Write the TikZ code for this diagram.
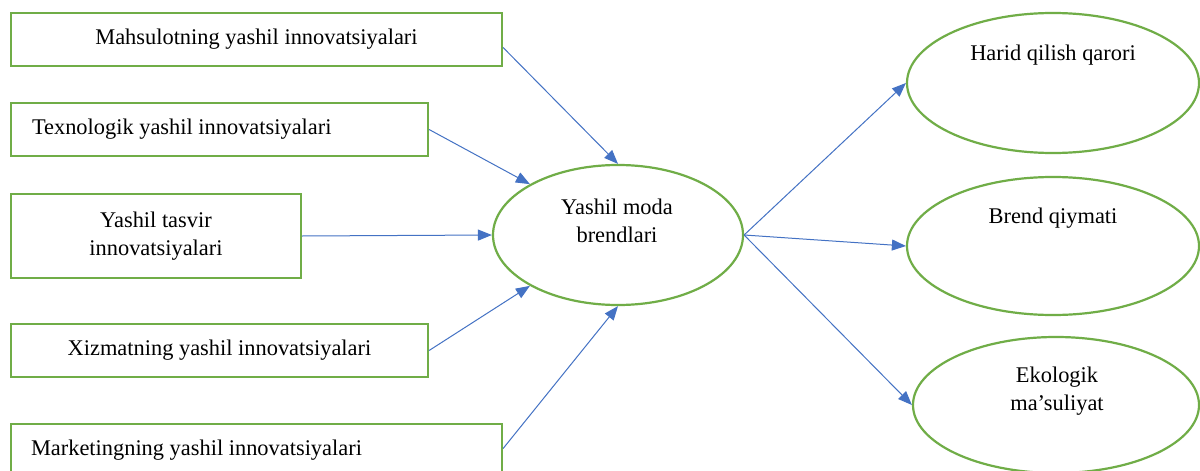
\documentclass[tikz,border=0pt]{standalone}
\usepackage{fontspec}
\setmainfont{Liberation Serif}
\usetikzlibrary{shapes.geometric,arrows.meta}
\definecolor{boxgreen}{HTML}{70AD47}
\definecolor{arrowblue}{HTML}{4472C4}
\begin{document}
\begin{tikzpicture}[x=1pt,y=-1pt,
  box/.style={draw=boxgreen,line width=2.2pt,rectangle,inner sep=0pt,minimum height=53pt,font=\fontsize{22.4}{28}\selectfont,align=center},
  oval/.style={draw=boxgreen,line width=2.2pt,ellipse,inner sep=0pt},
  lbl/.style={font=\fontsize{22.4}{28}\selectfont,align=center,inner sep=0pt},
  arr/.style={draw=arrowblue,line width=1pt,-{Triangle[length=14pt,width=11pt]}}]
\useasboundingbox (0,0) rectangle (1200,471);
\fill[white] (0,0) rectangle (1200,471);
\clip (0,0) rectangle (1200,471);

% left boxes
\node[box,minimum width=491pt] (b1) at (256.5,39.5) {Mahsulotning yashil innovatsiyalari};
\node[box,text width=375pt,inner xsep=21pt,align=flush left] (b2) at (219.5,129.5) {Texnologik yashil innovatsiyalari};
\node[box,minimum width=290pt,minimum height=84pt] (b3) at (156,236) {Yashil tasvir\\innovatsiyalari};
\node[box,minimum width=417pt] (b4) at (219.5,350.5) {Xizmatning yashil innovatsiyalari};
\node[box,text width=451pt,inner xsep=20pt,align=flush left] (b5) at (256.5,450.5) {Marketingning yashil innovatsiyalari};

% central ellipse
\node[oval,minimum width=250pt,minimum height=140pt] (c) at (618,235) {};
\node[lbl] (ct) at (617,221) {Yashil moda\\brendlari};

% right ellipses
\node[oval,minimum width=292pt,minimum height=140pt] (e1) at (1053,83) {};
\node[lbl] (e1t) at (1053,55) {Harid qilish qarori};
\node[oval,minimum width=292pt,minimum height=138pt] (e2) at (1053,246) {};
\node[lbl] (e2t) at (1053,218) {Brend qiymati};
\node[oval,minimum width=286pt,minimum height=136pt] (e3) at (1056,405) {};
\node[lbl] (e3t) at (1057,391) {Ekologik\\ma’suliyat};

% connectors
\draw[arr] ([yshift=-8pt]b1.east) -- (c.north);
\draw[arr] (b2.east) -- (c.150);
\draw[arr] (b3.east) -- (c.west);
\draw[arr] (b4.east) -- (c.210);
\draw[arr] ([yshift=2pt]b5.east) -- (c.south);
\draw[arr] (c.east) -- (e1.west);
\draw[arr] (c.east) -- (e2.west);
\draw[arr] (c.east) -- (e3.west);
\end{tikzpicture}
\end{document}
